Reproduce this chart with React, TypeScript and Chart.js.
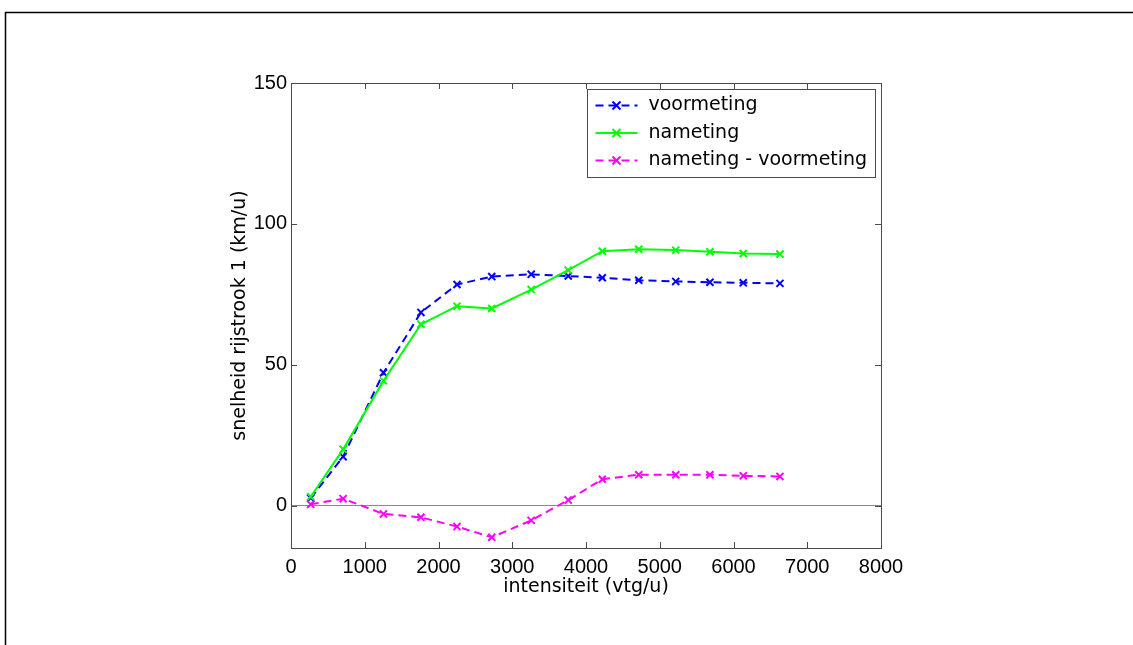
import { useEffect, useRef } from 'react';
import { Chart, registerables } from 'chart.js';

Chart.register(...registerables);

// Measured speeds per traffic intensity class
const intensiteit = [267, 707, 1254, 1762, 2251, 2722, 3257, 3759, 4221, 4715, 5217, 5680, 6132, 6630];
const voormeting = [2.7, 17.4, 47.2, 68.6, 78.5, 81.3, 82.1, 81.5, 80.9, 80.0, 79.6, 79.3, 79.1, 78.9];
const nameting = [3.2, 20.0, 44.3, 64.4, 70.8, 70.0, 76.7, 83.6, 90.3, 91.0, 90.7, 90.1, 89.5, 89.3];
const verschil = [0.5, 2.5, -2.9, -4.1, -7.4, -11.2, -5.2, 2.0, 9.4, 11.0, 11.0, 11.0, 10.6, 10.4];

const xTicks = [0, 1000, 2000, 3000, 4000, 5000, 6000, 7000, 8000];
const yTicks = [0, 50, 100, 150];

const seriesLabels = ['voormeting', 'nameting', 'nameting - voormeting'];
const xTitle = 'intensiteit (vtg/u)';
const yTitle = 'snelheid rijstrook 1 (km/u)';

const W = 1133;
const H = 645;

const TICK_FONT = { family: '"Liberation Sans", Arial, sans-serif', size: 20, lineHeight: 1.2 };
const LABEL_FONT = { family: '"DejaVu Sans", sans-serif', size: 19, lineHeight: 1.2 };
const AXIS_COLOR = '#4a4a4a';

const toPoints = (ys: number[]) => intensiteit.map((x, i) => ({ x, y: ys[i] }));

// Outer figure frame (top and left edges)
const figureFrame = {
  id: 'figureFrame',
  beforeDraw(chart: any) {
    const ctx = chart.ctx;
    ctx.save();
    ctx.fillStyle = '#ffffff';
    ctx.fillRect(0, 0, chart.width, chart.height);
    ctx.strokeStyle = '#000000';
    ctx.lineWidth = 1.5;
    ctx.beginPath();
    ctx.moveTo(5.5, chart.height);
    ctx.lineTo(5.5, 12.5);
    ctx.lineTo(chart.width, 12.5);
    ctx.stroke();
    ctx.restore();
  },
};

// Boxed axes with inward ticks on all four sides
const axesBox = {
  id: 'axesBox',
  afterDatasetsDraw(chart: any) {
    const { ctx, chartArea: a, scales } = chart;
    const len = 6;
    ctx.save();
    ctx.strokeStyle = AXIS_COLOR;
    ctx.lineWidth = 1;
    ctx.strokeRect(Math.round(a.left) + 0.5, Math.round(a.top) + 0.5, Math.round(a.right - a.left), Math.round(a.bottom - a.top));
    ctx.beginPath();
    scales.x.ticks.forEach((t: any) => {
      const px = Math.round(scales.x.getPixelForValue(t.value)) + 0.5;
      ctx.moveTo(px, a.bottom);
      ctx.lineTo(px, a.bottom - len);
      ctx.moveTo(px, a.top);
      ctx.lineTo(px, a.top + len);
    });
    scales.y.ticks.forEach((t: any) => {
      const py = Math.round(scales.y.getPixelForValue(t.value)) + 0.5;
      ctx.moveTo(a.left, py);
      ctx.lineTo(a.left + len, py);
      ctx.moveTo(a.right, py);
      ctx.lineTo(a.right - len, py);
    });
    ctx.stroke();
    ctx.restore();
  },
};

// Boxed legend in the upper right corner of the axes
const boxedLegend = {
  id: 'boxedLegend',
  afterDraw(chart: any) {
    const { ctx, chartArea: a } = chart;
    const boxW = 288;
    const boxH = 88;
    const left = Math.round(a.right - 6 - boxW) + 0.5;
    const top = Math.round(a.top + 6) + 0.5;
    ctx.save();
    ctx.fillStyle = '#ffffff';
    ctx.fillRect(left, top, boxW, boxH);
    ctx.strokeStyle = AXIS_COLOR;
    ctx.lineWidth = 1;
    ctx.strokeRect(left, top, boxW, boxH);
    chart.data.datasets.forEach((ds: any, i: number) => {
      const y = top + 16 + i * 27.5;
      const x0 = left + 8;
      const x1 = left + 50;
      ctx.strokeStyle = ds.borderColor;
      ctx.lineWidth = 2;
      ctx.setLineDash(ds.borderDash || []);
      ctx.beginPath();
      ctx.moveTo(x0, y);
      ctx.lineTo(x1, y);
      ctx.stroke();
      ctx.setLineDash([]);
      const cx = (x0 + x1) / 2;
      const r = 4;
      ctx.beginPath();
      ctx.moveTo(cx - r, y - r);
      ctx.lineTo(cx + r, y + r);
      ctx.moveTo(cx - r, y + r);
      ctx.lineTo(cx + r, y - r);
      ctx.stroke();
      ctx.fillStyle = '#000000';
      ctx.font = `${LABEL_FONT.size}px ${LABEL_FONT.family}`;
      ctx.textBaseline = 'middle';
      ctx.textAlign = 'left';
      ctx.fillText(ds.label, left + 61, y);
    });
    ctx.restore();
  },
};

export default function App() {
  const ref = useRef<HTMLCanvasElement | null>(null);

  useEffect(() => {
    if (!ref.current) return;
    const common = {
      borderWidth: 2,
      pointStyle: 'crossRot',
      pointRadius: 5,
      pointBorderWidth: 2,
      fill: false,
      tension: 0,
    };
    const chart = new Chart(ref.current, {
      type: 'line',
      data: {
        datasets: [
          {
            ...common,
            label: seriesLabels[0],
            data: toPoints(voormeting),
            borderColor: '#0000ff',
            pointBorderColor: '#0000ff',
            backgroundColor: '#0000ff',
            borderDash: [8, 5],
            order: 2,
          },
          {
            ...common,
            label: seriesLabels[1],
            data: toPoints(nameting),
            borderColor: '#00ff00',
            pointBorderColor: '#00ff00',
            backgroundColor: '#00ff00',
            order: 1,
          },
          {
            ...common,
            label: seriesLabels[2],
            data: toPoints(verschil),
            borderColor: '#ff00ff',
            pointBorderColor: '#ff00ff',
            backgroundColor: '#ff00ff',
            borderDash: [8, 5],
            order: 0,
          },
        ] as any,
      },
      options: {
        responsive: false,
        animation: false,
        devicePixelRatio: 1,
        layout: { padding: { left: 229, top: 83, right: W - 881, bottom: H - 548 - 50 } },
        plugins: {
          legend: { display: false },
          tooltip: { enabled: false },
          title: { display: false },
        },
        scales: {
          x: {
            type: 'linear',
            min: 0,
            max: 8000,
            afterBuildTicks: (scale: any) => {
              scale.ticks = xTicks.map((value) => ({ value }));
            },
            afterFit: (scale: any) => {
              scale.height = 50;
            },
            grid: { display: false, drawTicks: false },
            border: { display: false },
            ticks: {
              padding: 7,
              maxRotation: 0,
              autoSkip: false,
              color: '#000000',
              font: TICK_FONT,
              callback: (v: any) => String(v),
            },
            title: {
              display: true,
              text: xTitle,
              color: '#000000',
              font: LABEL_FONT,
              padding: { top: 0, bottom: 0 },
            },
          },
          y: {
            type: 'linear',
            min: -15,
            max: 150,
            afterBuildTicks: (scale: any) => {
              scale.ticks = yTicks.map((value) => ({ value }));
            },
            afterFit: (scale: any) => {
              scale.width = 291 - 229;
            },
            grid: {
              drawTicks: false,
              lineWidth: 1,
              color: (c: any) => (c.tick && c.tick.value === 0 ? '#8a8a8a' : 'rgba(0,0,0,0)'),
            },
            border: { display: false },
            ticks: {
              padding: 4,
              color: '#000000',
              font: TICK_FONT,
              callback: (v: any) => String(v),
            },
            title: {
              display: true,
              text: yTitle,
              color: '#000000',
              font: LABEL_FONT,
              padding: { top: 0, bottom: 0 },
            },
          },
        },
      },
      plugins: [figureFrame, axesBox, boxedLegend],
    } as any);
    return () => chart.destroy();
  }, []);

  return (
    <div style={{ position: 'fixed', left: 0, top: 0, width: W, height: H, background: '#ffffff' }}>
      <canvas ref={ref} width={W} height={H} style={{ display: 'block', width: W, height: H }} />
    </div>
  );
}
